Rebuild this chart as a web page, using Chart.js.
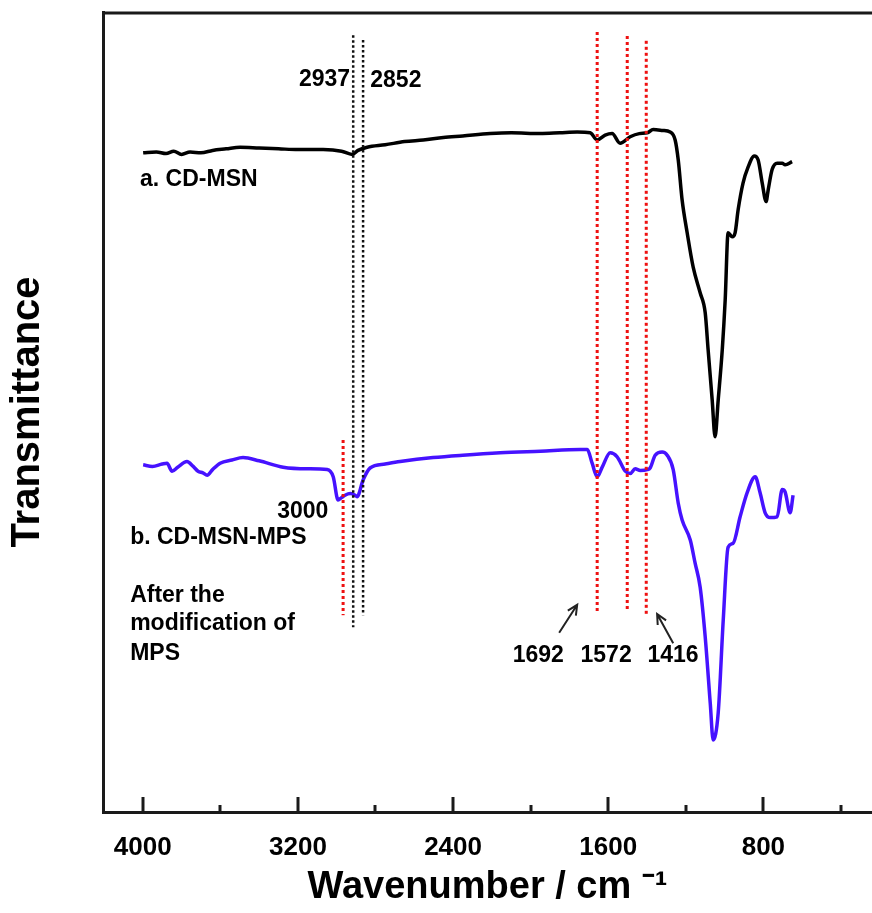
<!DOCTYPE html>
<html>
<head>
<meta charset="utf-8">
<script src="https://cdn.jsdelivr.net/npm/chart.js@4.4.1/dist/chart.umd.min.js"></script>
<style>
  html, body { margin: 0; padding: 0; background: #fff; }
  #wrap { width: 872px; height: 913px; }
</style>
</head>
<body>
<div id="wrap"><canvas id="ftir" width="872" height="913"></canvas></div>
<script>
// FTIR spectra, transmittance in arbitrary units (0 = x axis, 100 = top of frame)
const wnA = [3998, 3930, 3880, 3840, 3800, 3756, 3700, 3640, 3570, 3498, 3400, 3300, 3200, 3070, 2975,
  2920, 2890, 2843, 2750, 2650, 2554, 2450, 2350, 2209, 2100, 1951, 1850, 1760, 1693, 1657, 1616,
  1580, 1539, 1487, 1440, 1399, 1368, 1320, 1281, 1255, 1239, 1219, 1193, 1162, 1126, 1100, 1085,
  1064, 1049, 1033, 1012, 997, 982, 961, 946, 930, 905, 879, 847, 827, 806, 786, 775, 755, 729,
  703, 688, 652];
const tA = [82.4, 82.5, 82.3, 82.6, 82.2, 82.5, 82.4, 82.7, 82.9, 83.1, 83.0, 82.9, 82.8, 82.8, 82.6,
  82.2, 82.7, 83.1, 83.4, 83.8, 84.0, 84.3, 84.5, 84.8, 84.9, 84.8, 84.9, 85.0, 84.9, 84.0, 84.6,
  84.8, 83.6, 84.4, 84.8, 84.9, 85.3, 85.2, 85.0, 84.0, 81.5, 76.5, 72.4, 68.1, 64.9, 62.4, 57.8,
  51.5, 46.9, 51.5, 57.8, 64.0, 72.4, 71.9, 72.4, 75.3, 78.6, 80.6, 82.0, 81.5, 78.6, 76.3, 77.8,
  80.3, 81.1, 81.1, 80.9, 81.3];

const wnB = [3998, 3950, 3900, 3875, 3849, 3820, 3772, 3740, 3715, 3690, 3668, 3640, 3601, 3540, 3483,
  3400, 3276, 3150, 3049, 3018, 2993, 2975, 2957, 2930, 2905, 2895, 2864, 2828, 2750, 2673, 2503,
  2350, 2157, 1950, 1744, 1708, 1683, 1657, 1631, 1590, 1554, 1512, 1487, 1461, 1435, 1399, 1384,
  1358, 1322, 1296, 1265, 1239, 1219, 1177, 1152, 1126, 1100, 1074, 1059, 1033, 1007, 982, 956,
  920, 884, 842, 817, 791, 765, 729, 703, 688, 662, 647];
const tB = [43.4, 43.2, 43.5, 43.6, 42.6, 43.1, 43.8, 43.2, 42.6, 42.4, 42.1, 42.8, 43.6, 44.0, 44.3,
  43.9, 43.1, 42.9, 42.8, 41.9, 39.0, 39.3, 39.6, 39.8, 39.6, 39.4, 41.5, 43.0, 43.5, 43.8, 44.3,
  44.6, 44.9, 45.1, 45.3, 45.3, 43.6, 41.9, 43.1, 44.9, 44.4, 42.6, 42.3, 42.9, 42.7, 42.8, 43.0,
  44.6, 45.0, 44.6, 42.8, 38.6, 36.5, 34.0, 31.1, 28.1, 21.9, 13.6, 9.0, 12.4, 24.0, 33.1, 33.6,
  36.9, 39.9, 41.9, 39.9, 37.4, 36.8, 36.9, 40.3, 40.0, 37.4, 39.6];

// dotted marker lines
const blackMarkWn = [2915, 2864];
const blackMarkTop = [97.1, 96.5];
const blackMarkBottom = [23.1, 24.6];
const redMarkWn = [2967, 1657, 1502, 1404];
const redMarkTop = [46.5, 97.5, 97.0, 96.4];
const redMarkBottom = [24.6, 25.0, 25.0, 24.4];

// x axis ticks (labelled every 800)
const xTicks = [4000, 3600, 3200, 2800, 2400, 2000, 1600, 1200, 800, 400];

const annoFont = '700 23px "Liberation Sans", Arial, sans-serif';
const labels = [
  { text: '2937', wn: 2931, t: 91.5, align: 'right' },
  { text: '2852', wn: 2827, t: 91.4, align: 'left' },
  { text: 'a. CD-MSN', wn: 4014, t: 79.1, align: 'left' },
  { text: '3000', wn: 3043, t: 37.5, align: 'right' },
  { text: 'b. CD-MSN-MPS', wn: 4065, t: 34.25, align: 'left' },
  { text: 'After the', wn: 4065, t: 27.0, align: 'left' },
  { text: 'modification of', wn: 4065, t: 23.5, align: 'left' },
  { text: 'MPS', wn: 4065, t: 19.75, align: 'left' },
  { text: '1692', wn: 1961, t: 19.5, align: 'center' },
  { text: '1572', wn: 1611, t: 19.5, align: 'center' },
  { text: '1416', wn: 1266, t: 19.5, align: 'center' }
];
const arrows = [
  { fromWn: 1853, fromT: 22.4, toWn: 1760, toT: 25.9 },
  { fromWn: 1265, fromT: 21.1, toWn: 1348, toT: 24.75 }
];

const toXY = (wn, t) => wn.map((w, i) => ({ x: w, y: t[i] }));

const markSets = [];
blackMarkWn.forEach((w, i) => markSets.push({
  data: [{ x: w, y: blackMarkTop[i] }, { x: w, y: blackMarkBottom[i] }],
  borderColor: '#111', borderWidth: 2.5, borderDash: [2.5, 2.5], pointRadius: 0, order: 1
}));
redMarkWn.forEach((w, i) => markSets.push({
  data: [{ x: w, y: redMarkTop[i] }, { x: w, y: redMarkBottom[i] }],
  borderColor: '#ee1111', borderWidth: 3, borderDash: [3, 3], pointRadius: 0, order: 1
}));

const framePlugin = {
  id: 'frame',
  afterDatasetsDraw(chart) {
    const { ctx, chartArea, scales } = chart;
    const xs = scales.x, ys = scales.y;
    ctx.save();
    // top frame line
    ctx.strokeStyle = '#1a1a1a';
    ctx.lineWidth = 3;
    ctx.beginPath();
    ctx.moveTo(chartArea.left, chartArea.top + 1);
    ctx.lineTo(chartArea.right, chartArea.top + 1);
    ctx.stroke();
    // inward tick marks
    xTicks.forEach(v => {
      const px = Math.round(xs.getPixelForValue(v));
      const len = v % 800 === 0 ? 15 : 7;
      ctx.beginPath();
      ctx.moveTo(px, chartArea.bottom);
      ctx.lineTo(px, chartArea.bottom - len);
      ctx.stroke();
    });
    // text labels
    ctx.fillStyle = '#000';
    ctx.font = annoFont;
    ctx.textBaseline = 'middle';
    labels.forEach(l => {
      ctx.textAlign = l.align;
      ctx.fillText(l.text, xs.getPixelForValue(l.wn), ys.getPixelForValue(l.t));
    });
    // arrows
    ctx.strokeStyle = '#222';
    ctx.lineWidth = 2;
    arrows.forEach(a => {
      const x1 = xs.getPixelForValue(a.fromWn), y1 = ys.getPixelForValue(a.fromT);
      const x2 = xs.getPixelForValue(a.toWn), y2 = ys.getPixelForValue(a.toT);
      const ang = Math.atan2(y2 - y1, x2 - x1);
      const h = 11;
      ctx.beginPath();
      ctx.moveTo(x1, y1);
      ctx.lineTo(x2, y2);
      ctx.moveTo(x2 - h * Math.cos(ang - 0.45), y2 - h * Math.sin(ang - 0.45));
      ctx.lineTo(x2, y2);
      ctx.lineTo(x2 - h * Math.cos(ang + 0.45), y2 - h * Math.sin(ang + 0.45));
      ctx.stroke();
    });
    ctx.restore();
  }
};

new Chart(document.getElementById('ftir'), {
  type: 'line',
  data: {
    datasets: [
      ...markSets,
      { label: 'a. CD-MSN', data: toXY(wnA, tA), borderColor: '#000', borderWidth: 3.5,
        pointRadius: 0, cubicInterpolationMode: 'monotone', order: 2 },
      { label: 'b. CD-MSN-MPS', data: toXY(wnB, tB), borderColor: '#4612ff', borderWidth: 3.5,
        pointRadius: 0, cubicInterpolationMode: 'monotone', order: 2 }
    ]
  },
  options: {
    responsive: false,
    animation: false,
    events: [],
    layout: { padding: { top: 12, right: 0, left: 0, bottom: 0 } },
    plugins: { legend: { display: false }, tooltip: { enabled: false } },
    scales: {
      x: {
        type: 'linear',
        reverse: true,
        min: 240,
        max: 4205,
        afterBuildTicks: (s) => { s.ticks = xTicks.map(v => ({ value: v })); },
        afterFit: (s) => { s.height = 101; },
        grid: { display: true, drawOnChartArea: false, drawTicks: false },
        border: { display: true, color: '#1a1a1a', width: 3 },
        ticks: {
          autoSkip: false,
          maxRotation: 0,
          padding: 20,
          color: '#000',
          font: { family: '"Liberation Sans", Arial, sans-serif', size: 26, weight: 'bold' },
          callback: (v) => (v % 800 === 0 ? String(v) : '')
        },
        title: {
          display: true,
          text: 'Wavenumber / cm ⁻¹',
          color: '#000',
          font: { family: '"Liberation Sans", Arial, sans-serif', size: 38, weight: 'bold' },
          padding: { top: 0, bottom: 3 }
        }
      },
      y: {
        min: 0,
        max: 100,
        afterFit: (s) => { s.width = 103; },
        grid: { display: true, drawOnChartArea: false, drawTicks: false },
        border: { display: true, color: '#1a1a1a', width: 3 },
        ticks: { display: false },
        title: {
          display: true,
          text: 'Transmittance',
          color: '#000',
          font: { family: '"Liberation Sans", Arial, sans-serif', size: 40, weight: 'bold' },
          padding: { top: 4, bottom: 0 }
        }
      }
    }
  },
  plugins: [framePlugin]
});
</script>
</body>
</html>
